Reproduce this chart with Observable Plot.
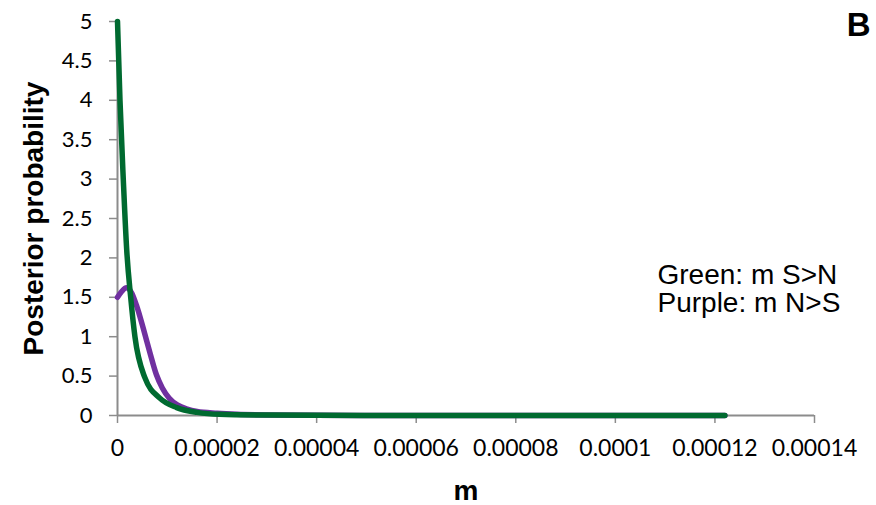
<!DOCTYPE html>
<html>
<head>
<meta charset="utf-8">
<script src="https://cdn.jsdelivr.net/npm/d3@7"></script>
<script src="https://cdn.jsdelivr.net/npm/@observablehq/plot@0.6"></script>
<style>
  html, body { margin: 0; padding: 0; background: #fff; }
  #chart { width: 876px; height: 505px; }
</style>
</head>
<body>
<div id="chart"></div>
<script>
// ---- Data ----
const greenX = [0, 0.0000005, 0.00000116, 0.00000185, 0.00000265, 0.0000035, 0.0000055, 0.0000085, 0.0000119, 0.000016, 0.0000205, 0.00003, 0.00004, 0.00006, 0.00008, 0.000122];
const greenY = [5.0, 4.0, 3.0, 2.1, 1.5, 1.0, 0.48, 0.22, 0.1, 0.04, 0.015, 0.005, 0.002, 0.0005, 0.0002, 0];

const purpleX = [0, 0.0000008, 0.0000018, 0.0000028, 0.0000038, 0.0000052, 0.0000065, 0.0000078, 0.000009, 0.0000104, 0.000012, 0.000014, 0.000016, 0.00002, 0.000024, 0.00003, 0.00004, 0.00006, 0.000122];
const purpleY = [1.5, 1.57, 1.62, 1.56, 1.4, 1.1, 0.8, 0.52, 0.35, 0.22, 0.135, 0.08, 0.05, 0.028, 0.015, 0.007, 0.003, 0.0005, 0];

const xTicks = [0, 0.00002, 0.00004, 0.00006, 0.00008, 0.0001, 0.00012, 0.00014];
const xTickLabels = ["0", "0.00002", "0.00004", "0.00006", "0.00008", "0.0001", "0.00012", "0.00014"];
const yTicks = [0, 0.5, 1, 1.5, 2, 2.5, 3, 3.5, 4, 4.5, 5];
const yTickLabels = ["0", "0.5", "1", "1.5", "2", "2.5", "3", "3.5", "4", "4.5", "5"];

const xTitle = "m";
const yTitle = "Posterior probability";
const panelLabel = "B";
const legendLines = ["Green: m S>N", "Purple: m N>S"];

// ---- Build tables ----
const green = greenX.map((x, i) => ({x, y: greenY[i]}));
const purple = purpleX.map((x, i) => ({x, y: purpleY[i]}));

const GREEN = "#006A30";
const PURPLE = "#7030A0";
const AXIS = "#8c8c8c";
const tickFont = "Lato, 'Open Sans', sans-serif";
const titleFont = "'Liberation Sans', Arial, sans-serif";

const chart = Plot.plot({
  width: 876,
  height: 505,
  marginLeft: 117,
  marginRight: 62,
  marginTop: 21,
  marginBottom: 90,
  style: {background: "#fff", color: "black", fontFamily: tickFont, overflow: "visible"},
  x: {domain: [0, 0.00014]},
  y: {domain: [0, 5]},
  marks: [
    Plot.axisX({
      ticks: xTicks,
      tickFormat: d => xTickLabels[xTicks.indexOf(d)],
      tickSize: 8,
      tickPadding: 16,
      stroke: AXIS,
      strokeWidth: 1.5,
      fill: "black",
      fontSize: 23,
      fontFamily: tickFont,
      label: null
    }),
    Plot.axisY({
      ticks: yTicks,
      tickFormat: d => yTickLabels[yTicks.indexOf(d)],
      tickSize: 8,
      tickPadding: 17,
      stroke: AXIS,
      strokeWidth: 1.5,
      fill: "black",
      fontSize: 22,
      fontFamily: tickFont,
      label: null
    }),
    Plot.ruleY([0], {stroke: AXIS, strokeWidth: 2}),
    Plot.ruleX([0], {stroke: AXIS, strokeWidth: 2}),
    Plot.line(purple, {x: "x", y: "y", stroke: PURPLE, strokeWidth: 5.5, curve: "monotone-x", strokeLinecap: "round", strokeLinejoin: "round"}),
    Plot.line(green, {x: "x", y: "y", stroke: GREEN, strokeWidth: 5.5, curve: "monotone-x", strokeLinecap: "round", strokeLinejoin: "round"}),
    Plot.text([yTitle], {frameAnchor: "left", dx: -83, rotate: -90, textAnchor: "middle", lineAnchor: "middle", text: d => d, fontSize: 28, fontWeight: "bold", fontFamily: titleFont, fill: "black"}),
    Plot.text([xTitle], {frameAnchor: "bottom", dy: 76, text: d => d, fontSize: 28, fontWeight: "bold", fontFamily: titleFont, fill: "black", lineAnchor: "middle"}),
    Plot.text([panelLabel], {frameAnchor: "top-right", dx: 56, dy: 4, textAnchor: "end", lineAnchor: "middle", text: d => d, fontSize: 33, fontWeight: "bold", fontFamily: titleFont, fill: "black"}),
    Plot.text([legendLines.join("\n")], {frameAnchor: "right", dx: -157, dy: 71, textAnchor: "start", lineAnchor: "middle", lineHeight: 1.0, text: d => d, fontSize: 28, fontFamily: titleFont, fill: "black"})
  ]
});
document.getElementById("chart").appendChild(chart);
</script>
</body>
</html>
